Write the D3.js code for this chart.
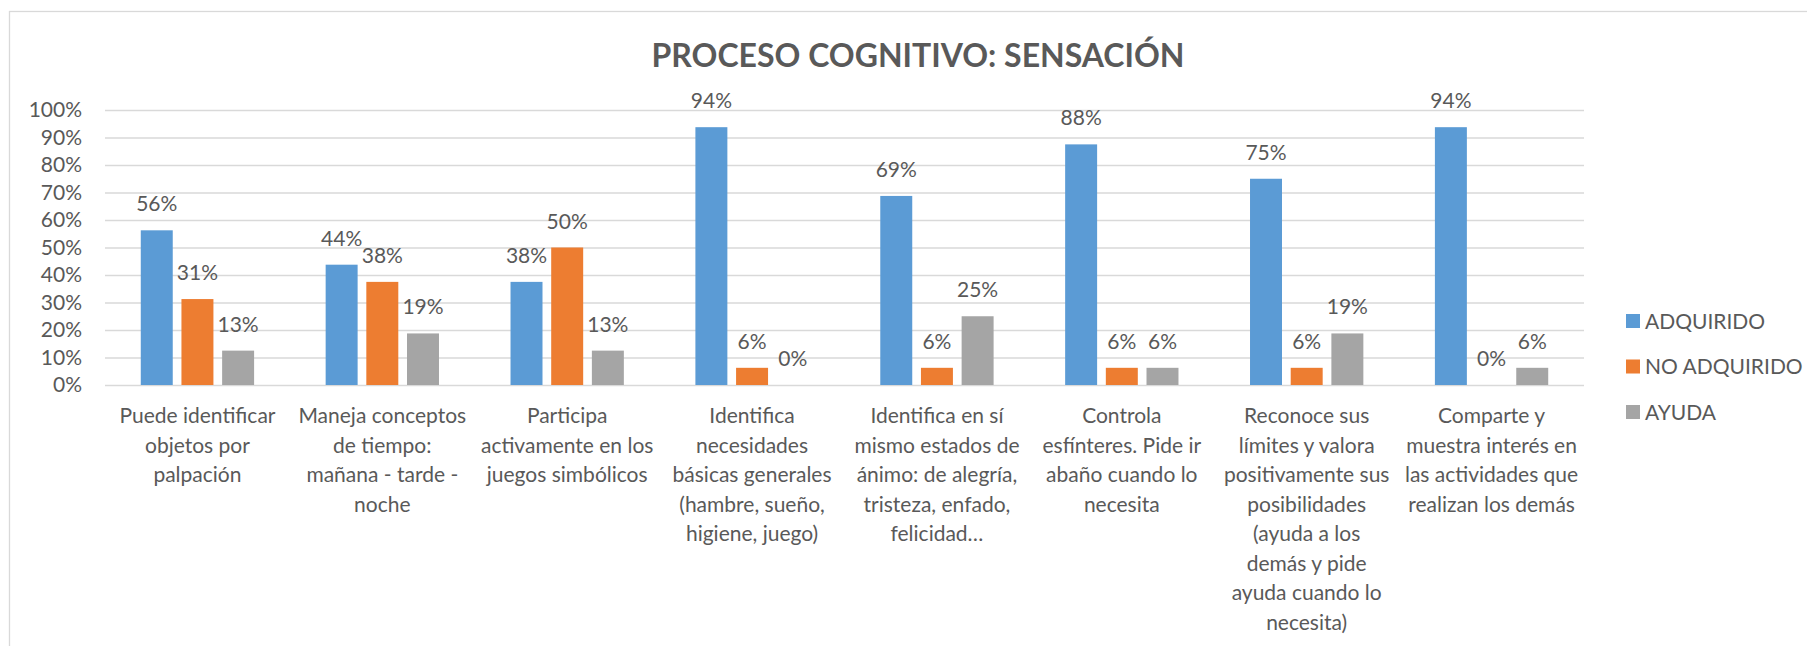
<!DOCTYPE html>
<html>
<head>
<meta charset="utf-8">
<script src="https://cdn.jsdelivr.net/npm/d3@7"></script>
<style>
  html, body { margin: 0; padding: 0; background: #fff; overflow: hidden; }
  svg text { font-family: Lato, "Open Sans", sans-serif; fill: #595959; }
</style>
</head>
<body>
<svg id="chart" width="1807" height="646"></svg>
<script>
const title = "PROCESO COGNITIVO: SENSACIÓN";
const categories = [
  ["Puede identificar", "objetos por", "palpación"],
  ["Maneja conceptos", "de tiempo:", "mañana - tarde -", "noche"],
  ["Participa", "activamente en los", "juegos simbólicos"],
  ["Identifica", "necesidades", "básicas generales", "(hambre, sueño,", "higiene, juego)"],
  ["Identifica en sí", "mismo estados de", "ánimo: de alegría,", "tristeza, enfado,", "felicidad…"],
  ["Controla", "esfínteres. Pide ir", "abaño cuando lo", "necesita"],
  ["Reconoce sus", "límites y valora", "positivamente sus", "posibilidades", "(ayuda a los", "demás y pide", "ayuda cuando lo", "necesita)"],
  ["Comparte y", "muestra interés en", "las actividades que", "realizan los demás"]
];
const seriesNames = ["ADQUIRIDO", "NO ADQUIRIDO", "AYUDA"];
const adquirido   = [56.25, 43.75, 37.5, 93.75, 68.75, 87.5, 75, 93.75];
const noAdquirido = [31.25, 37.5, 50, 6.25, 6.25, 6.25, 6.25, 0];
const ayuda       = [12.5, 18.75, 12.5, 0, 25, 6.25, 18.75, 6.25];
const yTicks = [0, 10, 20, 30, 40, 50, 60, 70, 80, 90, 100];
const colors = ["#5B9BD5", "#ED7D31", "#A5A5A5"];

const seriesValues = [adquirido, noAdquirido, ayuda];

const svg = d3.select("#chart");

// outer chart border
svg.append("rect")
  .attr("x", 9.5).attr("y", 11.5)
  .attr("width", 1850).attr("height", 700)
  .attr("fill", "#fff").attr("stroke", "#D9D9D9").attr("stroke-width", 1.3);

const plot = { left: 105, right: 1584, top: 110, bottom: 385 };

const x0 = d3.scaleBand()
  .domain(d3.range(categories.length))
  .range([plot.left, plot.right])
  .paddingInner(0.387).paddingOuter(0.1935);

const x1 = d3.scaleBand()
  .domain(d3.range(seriesNames.length))
  .range([0, x0.bandwidth()])
  .paddingInner(0.214).paddingOuter(0);

const y = d3.scaleLinear().domain([0, 100]).range([plot.bottom, plot.top]);

// gridlines
const yAxis = d3.axisLeft(y).tickValues(yTicks).tickFormat(d => d + "%")
  .tickSize(-(plot.right - plot.left)).tickPadding(23);
const gy = svg.append("g").attr("transform", `translate(${plot.left},0)`).call(yAxis);
gy.select(".domain").remove();
gy.selectAll(".tick line").attr("stroke", "#D9D9D9").attr("stroke-width", 1.5);
gy.selectAll(".tick text")
  .attr("font-size", 21).attr("font-family", "Lato, sans-serif").attr("fill", "#595959");

// title
svg.append("text")
  .attr("x", 918).attr("y", 67)
  .attr("text-anchor", "middle")
  .attr("font-size", 32).attr("font-weight", "bold")
  .text(title);

// bars
const data = [];
categories.forEach((c, i) => {
  seriesValues.forEach((vals, s) => data.push({ i, s, v: vals[i] }));
});

svg.append("g").selectAll("rect").data(data).enter().append("rect")
  .attr("x", d => x0(d.i) + x1(d.s))
  .attr("y", d => y(d.v))
  .attr("width", x1.bandwidth())
  .attr("height", d => y(0) - y(d.v))
  .attr("fill", d => colors[d.s]);

// data labels
svg.append("g").selectAll("text").data(data).enter().append("text")
  .attr("x", d => x0(d.i) + x1(d.s) + x1.bandwidth() / 2)
  .attr("y", d => y(d.v) - 19)
  .attr("text-anchor", "middle")
  .attr("font-size", 21)
  .text(d => Math.round(d.v) + "%");

// category labels
const catG = svg.append("g");
categories.forEach((lines, i) => {
  const t = catG.append("text")
    .attr("x", x0(i) + x0.bandwidth() / 2)
    .attr("y", 423)
    .attr("text-anchor", "middle")
    .attr("font-size", 21);
  lines.forEach((ln, k) => {
    t.append("tspan")
      .attr("x", x0(i) + x0.bandwidth() / 2)
      .attr("dy", k === 0 ? 0 : 29.5)
      .text(ln);
  });
});

// legend
const leg = svg.append("g");
seriesNames.forEach((name, s) => {
  const ly = 314 + s * 45.5;
  leg.append("rect").attr("x", 1626).attr("y", ly).attr("width", 14).attr("height", 14)
    .attr("fill", colors[s]);
  leg.append("text").attr("x", 1645).attr("y", ly + 7).attr("dy", "0.36em")
    .attr("font-size", 21).text(name);
});
</script>
</body>
</html>
